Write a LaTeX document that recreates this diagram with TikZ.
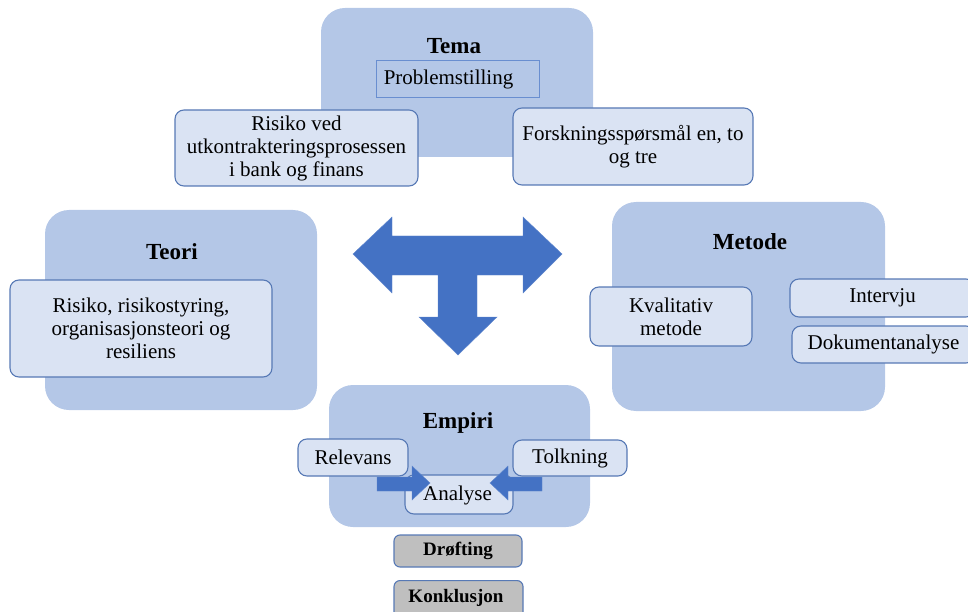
\documentclass[tikz,border=0pt]{standalone}
\usepackage{fontspec}
\setmainfont{Liberation Serif}
\definecolor{bigblue}{HTML}{B4C7E7}
\definecolor{innerblue}{HTML}{DAE3F3}
\definecolor{edgeblue}{HTML}{5779B5}
\definecolor{arrowblue}{HTML}{4472C4}
\definecolor{greyfill}{HTML}{BFBFBF}
\tikzset{
  bigbox/.style={fill=bigblue, draw=none, rounded corners=24pt, inner sep=0pt},
  innerbox/.style={fill=innerblue, draw=edgeblue, line width=1.1pt, rounded corners=9pt, inner sep=0pt, align=center, font=\fontsize{21}{23}\selectfont},
  probbox/.style={fill=bigblue, draw=arrowblue!80, line width=0.9pt, inner sep=0pt},
  greybox/.style={fill=greyfill, draw=edgeblue, line width=1.1pt, rounded corners=6pt, inner sep=0pt, font=\fontsize{19}{22}\selectfont\bfseries},
  headtxt/.style={font=\fontsize{23}{25}\selectfont\bfseries, inner sep=0pt},
  bodytxt/.style={font=\fontsize{21}{23}\selectfont, inner sep=0pt},
  blockarrow/.style={fill=arrowblue, draw=arrowblue!85!white, line width=0.4pt}
}
\begin{document}
\begin{tikzpicture}[x=1pt,y=-1pt]
\useasboundingbox (0,0) rectangle (968,612);
% Tema
\node[bigbox, minimum width=272pt, minimum height=149pt] (tema) at (457,82.5) {};
\node[headtxt] (tematitle) at (454,46) {Tema};
\node[probbox, minimum width=163pt, minimum height=37pt] (prob) at (457.5,78.5) {};
\node[bodytxt] (probtxt) at (448.5,79) {Problemstilling};
\node[innerbox, minimum width=243pt, minimum height=76pt] (risiko) at (296.5,148)
  {Risiko ved\\utkontrakteringsprosessen\\i bank og finans};
\node[innerbox, minimum width=240pt, minimum height=77pt] (forsk) at (633,146.5)
  {Forskningsspørsmål en, to\\og tre};
% Teori
\node[bigbox, minimum width=272pt, minimum height=200pt] (teori) at (181,310) {};
\node[headtxt] (teorititle) at (172,252) {Teori};
\node[innerbox, minimum width=262pt, minimum height=97pt] (teoriin) at (141,328.5)
  {Risiko, risikostyring,\\organisasjonsteori og\\resiliens};
% Metode
\node[bigbox, minimum width=273pt, minimum height=209pt] (metode) at (748.5,306.5) {};
\node[headtxt] (metodetitle) at (750,242) {Metode};
\node[innerbox, minimum width=162pt, minimum height=59pt] (kval) at (671,316.5)
  {Kvalitativ\\metode};
\node[innerbox, minimum width=185pt, minimum height=38pt] (intervju) at (882.5,298) {Intervju};
\node[innerbox, minimum width=183pt, minimum height=37pt] (dok) at (883.5,344.5) {Dokumentanalyse};
% Central block arrow
\draw[blockarrow] (353,254) -- (392,217) -- (392,236) -- (523,236) -- (523,217) -- (562,254)
  -- (523,293) -- (523,275) -- (477,275) -- (477,317) -- (497,317) -- (458,355)
  -- (419,317) -- (438,317) -- (438,275) -- (392,275) -- (392,293) -- cycle;
% Empiri
\node[bigbox, minimum width=261pt, minimum height=142pt] (empiri) at (459.5,456) {};
\node[headtxt] (empirititle) at (458,423) {Empiri};
\node[innerbox, minimum width=110pt, minimum height=37pt] (relevans) at (353,457.5) {Relevans};
\node[innerbox, minimum width=114pt, minimum height=36pt] (tolkning) at (570,458) {Tolkning};
\node[innerbox, minimum width=108pt, minimum height=39pt] (analyse) at (459,494.5) {};
\draw[blockarrow] (377,477) -- (412,477) -- (412,466) -- (430,483) -- (412,500) -- (412,491) -- (377,491) -- cycle;
\draw[blockarrow] (542,477) -- (508,477) -- (508,466) -- (490,483) -- (508,500) -- (508,491) -- (542,491) -- cycle;
\node[bodytxt] (analysetxt) at (457.5,495) {Analyse};
% Drofting / Konklusjon
\node[greybox, minimum width=128pt, minimum height=32pt] (drofting) at (458,551) {Drøfting};
\node[greybox, minimum width=129pt, minimum height=40pt, anchor=north] (konkl) at (458.5,580) {};
\node[font=\fontsize{19}{22}\selectfont\bfseries, inner sep=0pt] (konkltxt) at (456,598) {Konklusjon};
\end{tikzpicture}
\end{document}
